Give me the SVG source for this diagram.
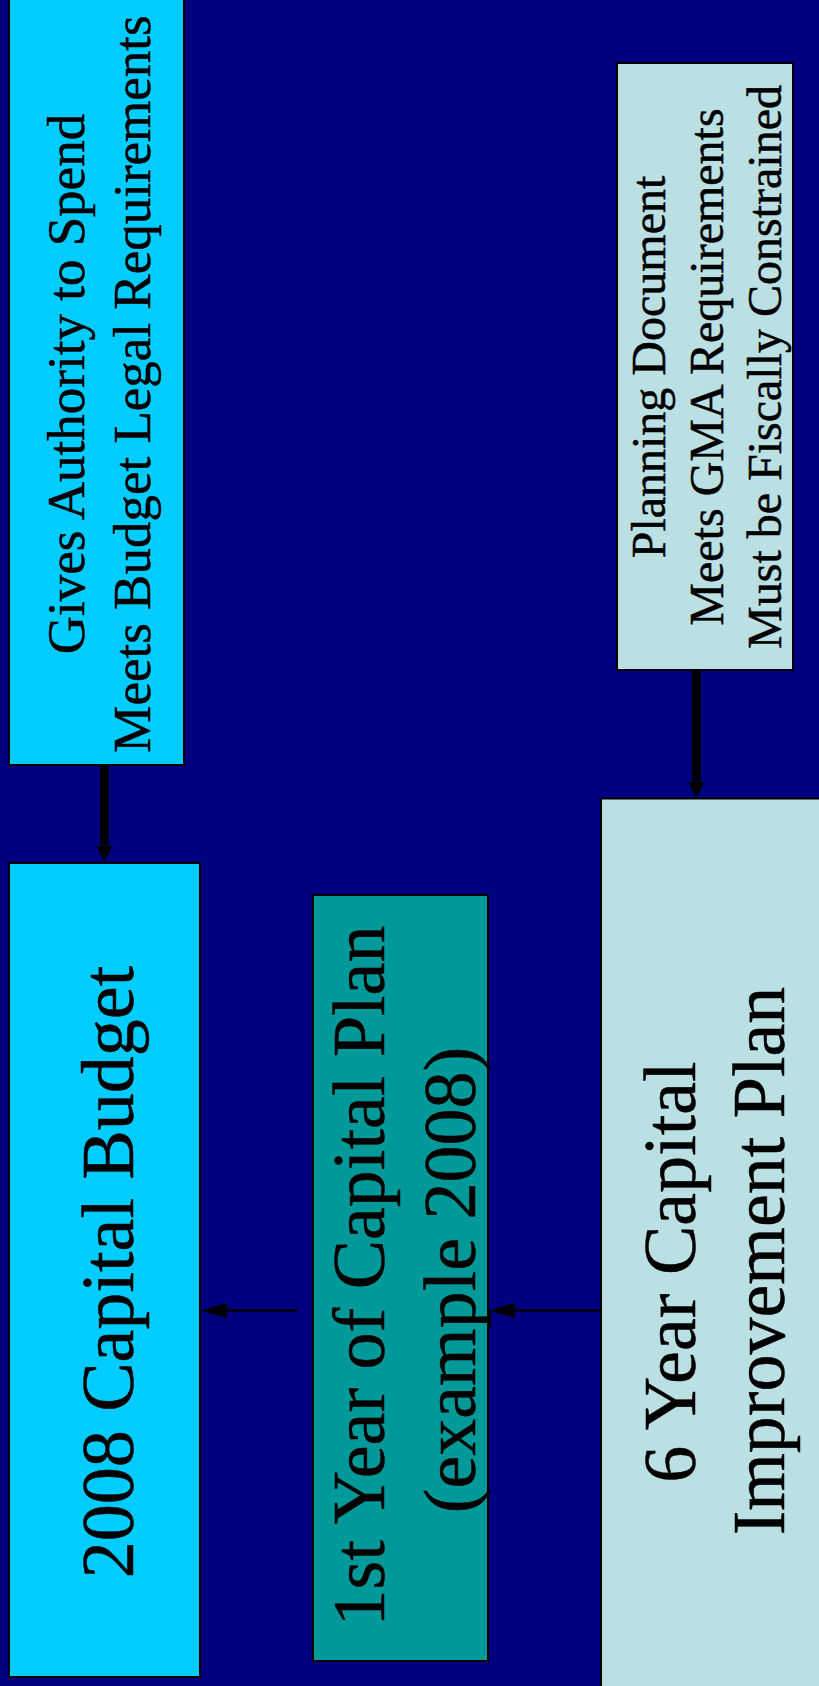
<svg xmlns="http://www.w3.org/2000/svg" width="819" height="1686" viewBox="0 0 819 1686">
<style>
.box{stroke:#000;stroke-width:2}
.cyan{fill:#00CCFF}
.teal{fill:#009999}
.light{fill:#BBE0E3}
text{font-family:"Liberation Serif","Times New Roman",serif;fill:#000;stroke:#000;stroke-width:0.5;text-anchor:middle}
.s53{font-size:53px}
.s48{font-size:48px}
.s74{font-size:74px}
.thick{stroke:#000;stroke-width:9;fill:none}
.thin{stroke:#000;stroke-width:2.5;fill:none}
</style>
<defs>
<marker id="headThick" markerUnits="userSpaceOnUse" markerWidth="17" markerHeight="17" viewBox="0 0 17 17" refX="0" refY="8.5" orient="auto">
<path d="M0,0 L16.5,8.5 L0,17 Z" fill="#000"/>
</marker>
<marker id="headThin" markerUnits="userSpaceOnUse" markerWidth="26" markerHeight="16" viewBox="0 0 26 15.6" refX="0" refY="7.8" orient="auto">
<path d="M0,0 L26,7.8 L0,15.6 Z" fill="#000"/>
</marker>
</defs>
<rect x="0" y="0" width="819" height="1686" fill="#000080"/>
<g id="authority">
<rect class="box cyan" x="9" y="-10" width="175" height="775"/>
<text class="s53" transform="translate(84,384) rotate(-90)">Gives Authority to Spend</text>
<text class="s53" transform="translate(149.5,384) rotate(-90)">Meets Budget Legal Requirements</text>
</g>
<g id="budget">
<rect class="box cyan" x="9" y="863" width="191" height="814"/>
<text class="s74" transform="translate(133,1272) rotate(-90)">2008 Capital Budget</text>
</g>
<g id="firstyear">
<rect class="box teal" x="313" y="895" width="175" height="766"/>
<text class="s74" transform="translate(384,1276) rotate(-90)">1st Year of Capital Plan</text>
<text class="s74" transform="translate(475,1280) rotate(-90)">(example 2008)</text>
</g>
<g id="cip">
<rect class="box light" x="601" y="798.5" width="300" height="1000"/>
<text class="s74" transform="translate(695,1272) rotate(-90)">6 Year Capital</text>
<text class="s74" transform="translate(783.5,1261) rotate(-90)">Improvement Plan</text>
</g>
<g id="planning">
<rect class="box light" x="617" y="63" width="176" height="607"/>
<text class="s48" transform="translate(665,367) rotate(-90)">Planning Document</text>
<text class="s48" transform="translate(723,367) rotate(-90)">Meets GMA Requirements</text>
<text class="s48" transform="translate(781,367) rotate(-90)">Must be Fiscally Constrained</text>
</g>
<g id="connectors">
<path class="thick" d="M104.5,766 L104.5,845.5" marker-end="url(#headThick)"/>
<path class="thick" d="M696.3,671 L696.3,781.5" marker-end="url(#headThick)"/>
<path class="thin" d="M297,1310.5 L227,1310.5" marker-end="url(#headThin)"/>
<path class="thin" d="M600,1310.5 L515,1310.5" marker-end="url(#headThin)"/>
</g>
</svg>
